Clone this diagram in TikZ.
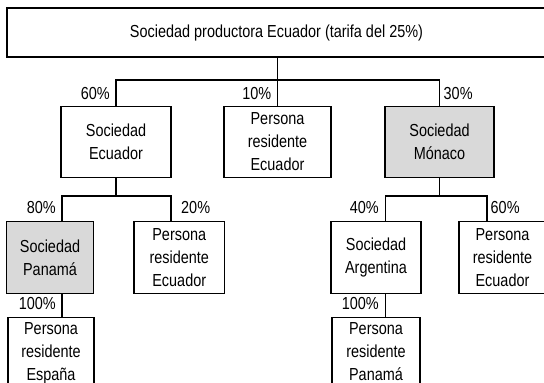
\documentclass[tikz,border=0pt]{standalone}
\usepackage{fontspec}
\setmainfont{Liberation Sans}[FakeStretch=0.83]
\newcommand\dfont{\fontsize{17.4}{23}\selectfont}
\definecolor{boxgrey}{HTML}{D9D9D9}
\tikzset{
  box/.style={draw, line width=1.2pt, inner sep=0pt, align=center, font=\dfont},
  grey/.style={fill=boxgrey},
  pct/.style={inner sep=0pt, font=\dfont},
  conn/.style={line width=1.2pt},
}
\begin{document}
\begin{tikzpicture}[x=1pt,y=-1pt]
\useasboundingbox (0,0) rectangle (544,383);
\fill[white] (0,0) rectangle (544,383);
% level 1
\node[box, minimum width=539, minimum height=49] (top) at (276.5,32.5) {Sociedad productora Ecuador (tarifa del 25\%)};
% level 2
\node[box, minimum width=110, minimum height=71] (se) at (116,142) {Sociedad\\Ecuador};
\node[box, minimum width=107, minimum height=71] (pre1) at (277.5,142) {Persona\\residente\\Ecuador};
\node[box, grey, minimum width=109, minimum height=71] (mon) at (439.5,142) {Sociedad\\Mónaco};
% level 3
\node[box, grey, minimum width=87, minimum height=72] (pan) at (50,257.5) {Sociedad\\Panamá};
\node[box, minimum width=90.5, minimum height=72] (pre2) at (179.25,257.5) {Persona\\residente\\Ecuador};
\node[box, minimum width=90, minimum height=72] (arg) at (376,257.5) {Sociedad\\Argentina};
\node[box, minimum width=87, minimum height=72] (pre3) at (502.5,257.5) {Persona\\residente\\Ecuador};
% level 4
\node[box, minimum width=86, minimum height=84, anchor=north] (esp) at (51,317) {};
\node[pct, align=center, anchor=north] (espt) at (51,322) {Persona\\residente\\España};
\node[box, minimum width=88, minimum height=84, anchor=north] (panp) at (376,317) {};
\node[pct, align=center, anchor=north] (panpt) at (376,322) {Persona\\residente\\Panamá};
% bus coordinates
\coordinate (b1) at (0,80);
\coordinate (bl1) at (62,196);
\coordinate (bl2) at (171,196);
\coordinate (br1) at (385.5,196);
\coordinate (br2) at (487,196);
% connectors
\draw[conn] (pre1.north |- top.south) -- (pre1.north);
\draw[conn] (se.north) -- (se.north |- b1) -- (mon.north |- b1) -- (mon.north);
\draw[conn] (se.south) -- (se.south |- bl1);
\draw[conn] (pan.north -| bl1) -- (bl1) -- (bl2) -- (pre2.north -| bl2);
\draw[conn] (mon.south) -- (mon.south |- br1);
\draw[conn] (arg.north -| br1) -- (br1) -- (br2) -- (pre3.north -| br2);
\draw[conn] (pan.south -| bl1) -- (esp.north -| bl1);
\draw[conn] (arg.south -| br1) -- (panp.north -| br1);
% percentages
\node[pct, anchor=base east] (p60a) at (110,99) {60\%};
\node[pct, anchor=base east] (p10) at (271.5,99) {10\%};
\node[pct, anchor=base west] (p30) at (443.5,99) {30\%};
\node[pct, anchor=base east] (p80) at (56,213) {80\%};
\node[pct, anchor=base west] (p20) at (181,213) {20\%};
\node[pct, anchor=base east] (p40) at (379,213) {40\%};
\node[pct, anchor=base west] (p60b) at (490.5,213) {60\%};
\node[pct, anchor=base east] (p100a) at (56,309) {100\%};
\node[pct, anchor=base east] (p100b) at (379,309) {100\%};
\end{tikzpicture}
\end{document}
